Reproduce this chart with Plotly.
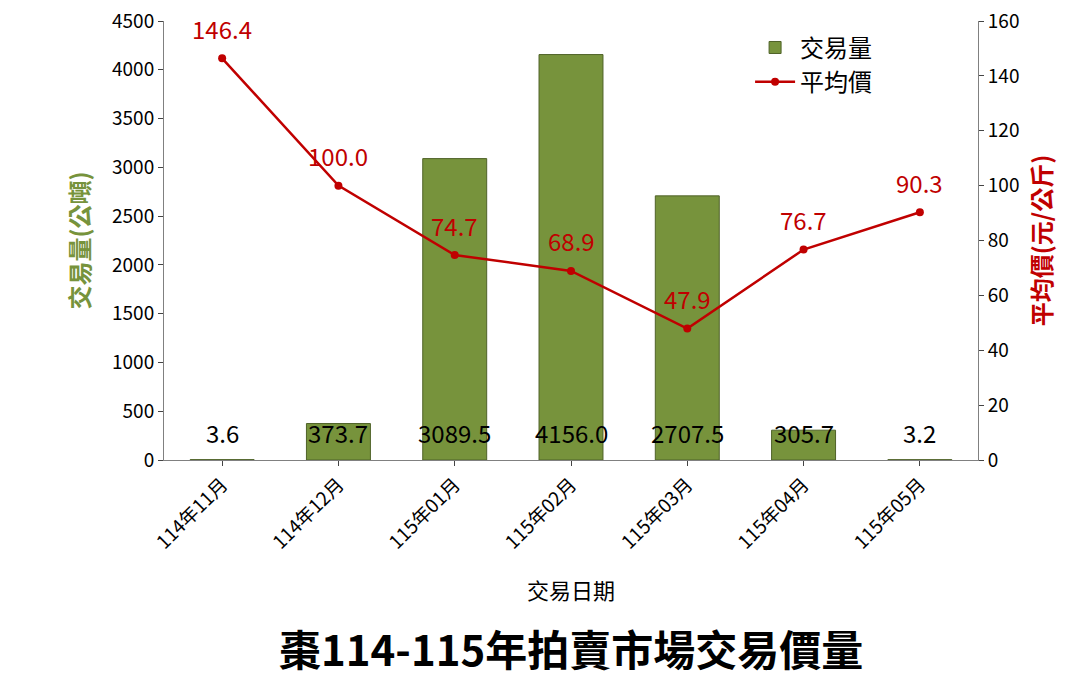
import plotly.graph_objects as go

months = ["114年11月", "114年12月", "115年01月", "115年02月", "115年03月", "115年04月", "115年05月"]
volume = [3.6, 373.7, 3089.5, 4156.0, 2707.5, 305.7, 3.2]
price = [146.4, 100.0, 74.7, 68.9, 47.9, 76.7, 90.3]

FONT = "Noto Sans CJK TC, Noto Sans, sans-serif"
GREEN = "#77933C"
RED = "#C00000"

fig = go.Figure()

fig.add_trace(go.Bar(
    x=months, y=volume, name="交易量",
    marker=dict(color=GREEN, line=dict(color="#4F6228", width=1)),
    width=0.55,
))

fig.add_trace(go.Scatter(
    x=months, y=price, name="平均價", yaxis="y2",
    mode="lines+markers",
    line=dict(color=RED, width=2.5),
    marker=dict(color=RED, size=8),
))

# price labels above each point
for m, p in zip(months, price):
    fig.add_annotation(x=m, y=p, yref="y2", text=f"{p:.1f}", showarrow=False,
                       yshift=30, font=dict(size=24, color=RED, family=FONT))

# volume labels near the bottom of each bar
for m, v in zip(months, volume):
    fig.add_annotation(x=m, y=280, text=f"{v:.1f}", showarrow=False,
                       font=dict(size=24, color="black", family=FONT))

fig.add_annotation(x=0.5, y=-0.335, xref="paper", yref="paper", text="交易日期",
                   showarrow=False, font=dict(size=22, color="black", family=FONT))
fig.add_annotation(x=0.5, y=-0.5, xref="paper", yref="paper", text="<b>棗114-115年拍賣市場交易價量</b>",
                   showarrow=False, font=dict(size=42, color="black", family=FONT))

fig.update_layout(
    width=1080, height=690,
    margin=dict(l=156, r=110, t=13, b=238),
    paper_bgcolor="white", plot_bgcolor="white",
    font=dict(family=FONT, size=18, color="black"),
    showlegend=True,
    legend=dict(x=0.72, y=0.99, xanchor="left", yanchor="top",
                font=dict(size=24, family=FONT), bgcolor="rgba(0,0,0,0)",
                itemwidth=40),
    xaxis=dict(tickangle=-45, showline=True, linecolor="#808080", automargin=False,
               ticks="outside", tickfont=dict(size=19), showgrid=False),
    yaxis=dict(title=dict(text="<b>交易量(公噸)</b>", font=dict(color=GREEN, size=24)),
               range=[0, 4500], dtick=500, showline=True, linecolor="#808080",
               ticklabeloverflow="allow", automargin=False, ticks="outside",
               showgrid=False, tickfont=dict(size=19)),
    yaxis2=dict(title=dict(text="<b>平均價(元/公斤)</b>", font=dict(color=RED, size=24)),
                overlaying="y", side="right", range=[0, 160], dtick=20, automargin=False,
                ticklabeloverflow="allow", showline=True, linecolor="#808080", ticks="outside",
                showgrid=False, tickfont=dict(size=19)),
)

fig.write_html("out.html")
